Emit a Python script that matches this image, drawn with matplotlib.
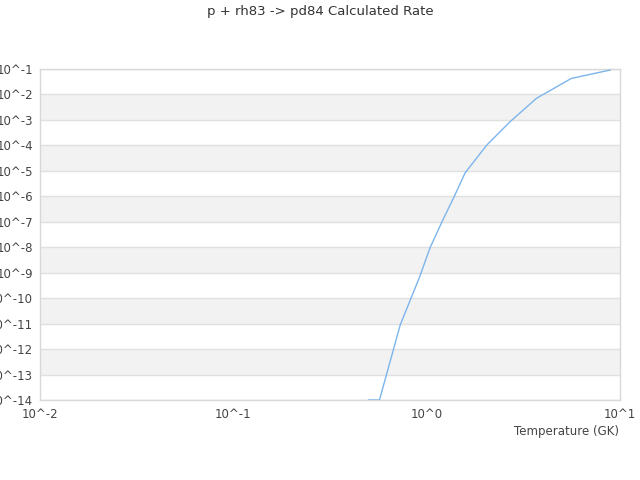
import matplotlib
matplotlib.use("Agg")
import matplotlib.pyplot as plt
import numpy as np

# Data (temperature in GK, rate)
temperature = [0.5, 0.57, 0.73, 0.92, 1.04, 1.2, 1.4, 1.58, 2.05, 2.7, 3.7, 5.6, 8.9]
log_rate = [-14.0, -14.0, -11.05, -9.16, -8.03, -7.0, -5.95, -5.08, -3.98, -3.07, -2.15, -1.37, -1.04]
rate = [10.0 ** v for v in log_rate]

x_decades = [-2, -1, 0, 1]
y_decades = list(range(-14, 0))

fig = plt.figure(figsize=(6.4, 4.8), dpi=100)
ax = fig.add_axes([40 / 640, 1 - 400 / 480, 580 / 640, 331 / 480])

ax.set_xscale("log")
ax.set_yscale("log")
ax.set_xlim(10.0 ** x_decades[0], 10.0 ** x_decades[-1])
ax.set_ylim(10.0 ** y_decades[0], 10.0 ** y_decades[-1])

# alternating bands, shaded every other decade from the top
for i, d in enumerate(range(y_decades[-1], y_decades[0], -1)):
    if i % 2 == 1:
        ax.axhspan(10.0 ** (d - 1), 10.0 ** d, color="#f2f2f2", lw=0, zorder=0)
for d in y_decades:
    ax.axhline(10.0 ** d, color="#e0e0e0", lw=1, zorder=1)

ax.plot(temperature, rate, color="#7cb5ec", lw=1, zorder=3, clip_on=True)

ax.minorticks_off()
ax.set_xticks([10.0 ** d for d in x_decades])
ax.set_xticklabels([f"10^{d}" for d in x_decades])
ax.set_yticks([10.0 ** d for d in y_decades])
ax.set_yticklabels([f"10^{d}" for d in y_decades])
ax.tick_params(length=0, labelsize=8.5, colors="#444444")
ax.tick_params(axis="y", pad=5)
ax.tick_params(axis="x", pad=6)

for s in ax.spines.values():
    s.set_color("#d8d8d8")
    s.set_linewidth(1)

fig.text(619 / 640, 1 - 431 / 480, "Temperature (GK)", ha="right", va="center",
         fontsize=8.5, color="#444444")
fig.text(0.5, 1 - 12 / 480, "p + rh83 -> pd84 Calculated Rate", ha="center", va="center",
         fontsize=9.5, color="#333333")

fig.savefig("out.png", dpi=100)
